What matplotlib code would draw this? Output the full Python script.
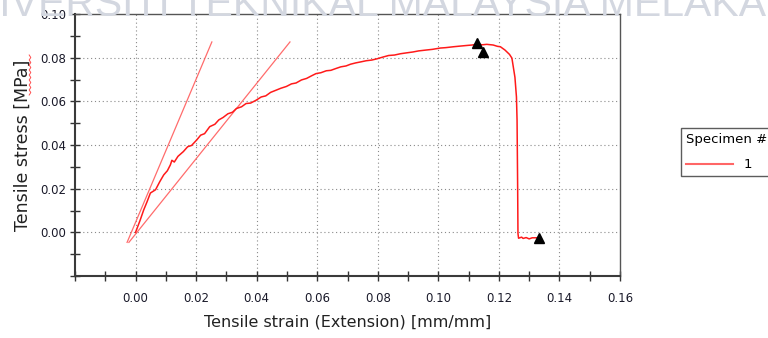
import matplotlib
matplotlib.use("Agg")
import matplotlib.pyplot as plt
from matplotlib.ticker import MultipleLocator, FixedLocator

# specimen 1
strain = [0.000, 0.0015, 0.0027, 0.0038, 0.0049, 0.0058, 0.0066, 0.0080, 0.0093, 0.0105,
          0.0115, 0.0120, 0.0128, 0.0140, 0.0158, 0.0172, 0.0185, 0.0202, 0.0215, 0.0228,
          0.0245, 0.0262, 0.0275, 0.0289, 0.0305, 0.0320, 0.0333, 0.0350, 0.0365, 0.0380,
          0.0398, 0.0415, 0.0430, 0.0446, 0.0464, 0.0480, 0.0498, 0.0515, 0.0530, 0.0548,
          0.0565, 0.0580, 0.0596, 0.0612, 0.0630, 0.0645, 0.0661, 0.0678, 0.0695, 0.0710,
          0.0727, 0.0745, 0.0762, 0.0780, 0.0798, 0.0815, 0.0836, 0.0855, 0.0875, 0.0895,
          0.0916, 0.0935, 0.0960, 0.0980, 0.1006, 0.1025, 0.1050, 0.1072, 0.1095, 0.1112,
          0.1128, 0.1145, 0.1160, 0.1181, 0.1195, 0.1205, 0.1220, 0.1235, 0.1243, 0.1253,
          0.1258, 0.1260, 0.1262, 0.1263, 0.1265, 0.1275, 0.1280, 0.1290, 0.1300, 0.1310,
          0.1326]
stress = [0.000, 0.0055, 0.0103, 0.0140, 0.0180, 0.0188, 0.0195, 0.0232, 0.0263, 0.0282,
          0.0309, 0.0330, 0.0322, 0.0348, 0.0370, 0.0392, 0.0398, 0.0423, 0.0445, 0.0452,
          0.0484, 0.0495, 0.0515, 0.0526, 0.0543, 0.0550, 0.0567, 0.0575, 0.0590, 0.0592,
          0.0605, 0.0620, 0.0625, 0.0641, 0.0651, 0.0660, 0.0668, 0.0680, 0.0684, 0.0698,
          0.0705, 0.0716, 0.0727, 0.0731, 0.0740, 0.0742, 0.0750, 0.0758, 0.0762, 0.0770,
          0.0776, 0.0781, 0.0786, 0.0789, 0.0795, 0.0802, 0.0810, 0.0812, 0.0818, 0.0822,
          0.0826, 0.0831, 0.0835, 0.0838, 0.0844, 0.0846, 0.0850, 0.0853, 0.0856, 0.0858,
          0.0862, 0.0859, 0.0861, 0.0858, 0.0852, 0.0850, 0.0835, 0.0815, 0.0798, 0.0710,
          0.0620, 0.0514, 0.0200, -0.0005, -0.0027, -0.0022, -0.0028, -0.0024, -0.0030, -0.0025,
          -0.0025]

# modulus / offset lines
tan1_x = [-0.0028, 0.0252]
tan1_y = [-0.0046, 0.0872]
tan2_x = [-0.0022, 0.051]
tan2_y = [-0.0046, 0.0872]

# event markers
mark_x = [0.1128, 0.1148, 0.1332]
mark_y = [0.0867, 0.0826, -0.0027]

xticks = [0.00, 0.02, 0.04, 0.06, 0.08, 0.10, 0.12, 0.14, 0.16]
yticks = [0.00, 0.02, 0.04, 0.06, 0.08, 0.10]

fig = plt.figure(figsize=(7.68, 3.38), dpi=100)
ax = fig.add_axes([75/768, 62/338, 545/768, 262/338])

# watermark at the top, cut off by the page edges
fig.text(766/768, 1 - 16/338, "UNIVERSITI TEKNIKAL MALAYSIA MELAKA",
         ha="right", va="baseline", fontsize=29.5, family="Liberation Sans",
         color="#d3d7e0", zorder=0)

line, = ax.plot(strain, stress, color="#ff1a1a", lw=1.1, zorder=3)
ax.plot(tan1_x, tan1_y, color="#ff5c5c", lw=0.9, alpha=0.9, zorder=2)
ax.plot(tan2_x, tan2_y, color="#ff5c5c", lw=0.9, alpha=0.9, zorder=2)
ax.plot(mark_x, mark_y, "^", color="black", ms=7, zorder=4)

ax.set_xlim(-0.02, 0.16)
ax.set_ylim(-0.02, 0.10)
ax.xaxis.set_major_locator(FixedLocator(xticks))
ax.yaxis.set_major_locator(FixedLocator(yticks))
ax.xaxis.set_minor_locator(MultipleLocator(0.01))
ax.yaxis.set_minor_locator(MultipleLocator(0.01))
ax.set_xticklabels(["%.2f" % v for v in xticks])
ax.set_yticklabels(["%.2f" % v for v in yticks])

for v in xticks[:-1]:
    ax.axvline(v, color="#8a8a8a", lw=0.8, ls=(0, (1, 2.5)), zorder=1)
for v in yticks[:-1]:
    ax.axhline(v, color="#8a8a8a", lw=0.8, ls=(0, (1, 2.5)), zorder=1)

ax.tick_params(axis="both", which="both", direction="inout", color="#333333",
               labelsize=8.5, labelcolor="#1a1a2a")
ax.tick_params(axis="both", which="major", length=7, width=1)
ax.tick_params(axis="both", which="minor", length=7, width=1)
ax.tick_params(axis="x", pad=8)
ax.tick_params(axis="y", pad=3)

for s in ["left", "bottom"]:
    ax.spines[s].set_color("#3a3a3a")
    ax.spines[s].set_linewidth(1.5)
for s in ["top", "right"]:
    ax.spines[s].set_color("#555555")
    ax.spines[s].set_linewidth(1.0)

ax.set_xlabel("Tensile strain (Extension) [mm/mm]", fontsize=11.5, color="#222222", labelpad=7)
ax.set_ylabel("Tensile stress [MPa]", fontsize=12.5, color="#222222", labelpad=6)

# spell-check squiggle under "MPa"
sq_y = [55 + 2.5 * i for i in range(17)]
sq_x = [30 + (0.8 if i % 2 else -0.8) for i in range(17)]
fig.add_artist(plt.Line2D([x / 768 for x in sq_x], [1 - y / 338 for y in sq_y],
                          color="#ff5050", lw=0.7, transform=fig.transFigure))

leg = fig.legend([line], ["1"], title="Specimen #", loc="upper left",
                 bbox_to_anchor=(681/768, 1 - 128/338), bbox_transform=fig.transFigure,
                 borderaxespad=0, fontsize=9.5, title_fontsize=9.5, frameon=True,
                 fancybox=False, handlelength=3.6, alignment="left", borderpad=0.35,
                 handletextpad=0.8, labelspacing=0.95)
leg.get_frame().set_edgecolor("#333333")
leg.get_frame().set_linewidth(1.0)
leg.get_lines()[0].set_color("#ff6666")
leg.get_lines()[0].set_linewidth(1.5)

fig.savefig("out.png", dpi=100)
